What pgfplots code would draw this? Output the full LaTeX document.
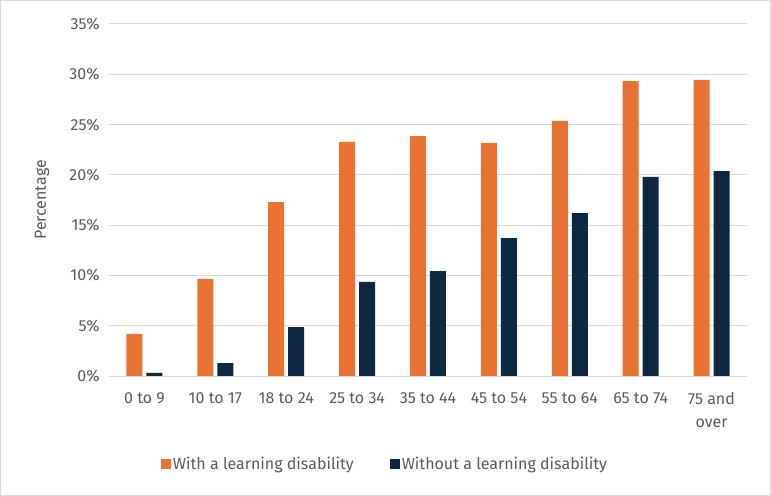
\documentclass[border=0pt]{standalone}
\usepackage{pgfplots}
\pgfplotsset{compat=1.18}
\usepackage{fontspec}
\setmainfont{Fira Sans}

\definecolor{withld}{HTML}{E97132}
\definecolor{withoutld}{HTML}{0E2841}
\definecolor{txtgray}{HTML}{595959}
\definecolor{gridgray}{HTML}{D9D9D9}

\newcommand{\chartfont}{\fontsize{16bp}{23bp}\selectfont}

\begin{document}
\begin{tikzpicture}
\useasboundingbox (0bp,0bp) rectangle (771bp,496bp);
\draw[gridgray, line width=1bp] (0.5bp,0.5bp) rectangle (770.5bp,495.5bp);
\begin{axis}[
  at={(109bp,120bp)}, anchor=south west,
  scale only axis, width=638bp, height=352bp,
  ybar=4bp, bar width=16bp,
  xmin=-0.5, xmax=8.5, ymin=0, ymax=35,
  xtick=data,
  xticklabels={0 to 9,10 to 17,18 to 24,25 to 34,35 to 44,45 to 54,55 to 64,65 to 74,{75 and\\over}},
  ytick={0,5,...,35},
  yticklabel={\pgfmathprintnumber{\tick}\%},
  /pgf/number format/assume math mode=true,
  ymajorgrids, grid style={gridgray, line width=1bp},
  axis line style={draw=none}, tick style={draw=none},
  every tick label/.append style={font=\chartfont, text=txtgray},
  xticklabel style={align=center, yshift=-9bp},
  yticklabel style={xshift=-6bp},
  ylabel={Percentage},
  ylabel style={font=\chartfont, text=txtgray, at={(axis description cs:-0.105,0.5)}, anchor=center},
  legend style={at={(axis description cs:0.4326,-0.25)}, anchor=center, draw=none, fill=none,
    legend columns=2, font=\chartfont, text=txtgray,
    /tikz/every even column/.append style={column sep=34bp}},
  legend image code/.code={\fill[#1] (0bp,-5bp) rectangle (10bp,5bp);},
]
\addplot[fill=withld, draw=none] coordinates {
  (0,4.18) (1,9.65) (2,17.30) (3,23.27) (4,23.86) (5,23.17) (6,25.36) (7,29.33) (8,29.44)};
\addplot[fill=withoutld, draw=none] coordinates {
  (0,0.3) (1,1.29) (2,4.87) (3,9.35) (4,10.44) (5,13.72) (6,16.2) (7,19.79) (8,20.38)};
\legend{With a learning disability, Without a learning disability}
\end{axis}
\end{tikzpicture}
\end{document}
